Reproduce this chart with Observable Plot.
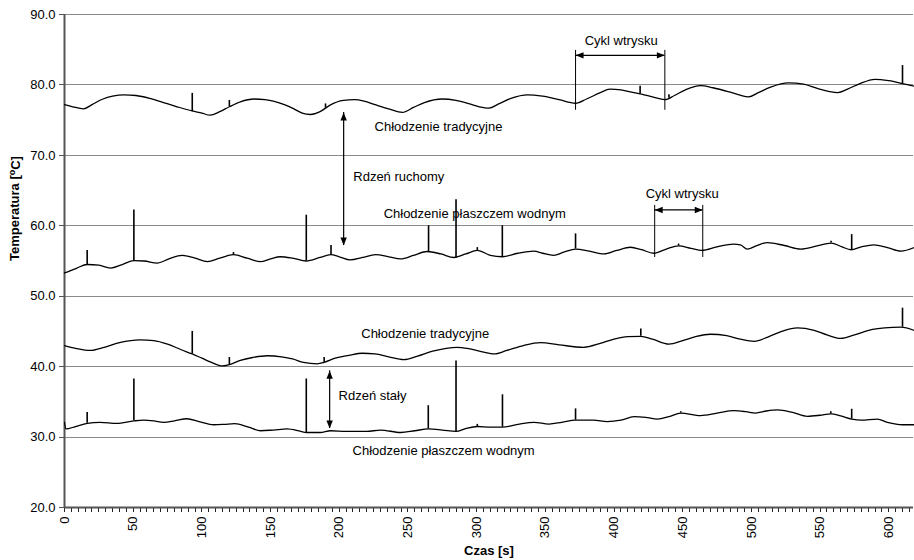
<!DOCTYPE html>
<html>
<head>
<meta charset="utf-8">
<script src="https://cdn.jsdelivr.net/npm/d3@7"></script>
<script src="https://cdn.jsdelivr.net/npm/@observablehq/plot@0.6"></script>
<style>
  html, body { margin: 0; padding: 0; background: #fff; }
  #chart { width: 914px; height: 560px; }
</style>
</head>
<body>
<div id="chart"></div>
<script>
// ---- data: [time s, temperature °C] ----
const movingTrad = [[0,77.2],[6,76.9],[13.8,76.6],[20,77.2],[28,78.0],[35,78.4],[43,78.6],[52,78.5],[62,78.1],[72,77.5],[82,76.9],[93,76.3],[100,76.0],[106,75.7],[113,76.2],[120,76.9],[128,77.6],[138,78.0],[146,77.9],[152,77.7],[160,77.2],[167,76.6],[173,76.0],[179,75.8],[186,76.2],[193,77.1],[203,77.8],[211,77.9],[218,77.7],[226,77.2],[236,76.6],[246,76.1],[254,76.8],[262,77.5],[275,78.0],[285,77.8],[295,77.3],[302,76.9],[309,76.7],[316,77.3],[325,78.1],[337,78.6],[348,78.4],[360,77.9],[372,77.4],[380,78.0],[390,78.9],[397,79.4],[405,79.3],[412,79.0],[420,78.7],[428,78.3],[437,77.9],[444,78.5],[452,79.3],[463,79.9],[472,79.6],[484,79.0],[491,78.6],[498,78.3],[505,78.9],[514,79.7],[527,80.3],[538,80.1],[548,79.5],[556,79.1],[563,78.9],[570,79.4],[579,80.2],[590,80.8],[600,80.6],[610,80.2],[619,79.8]];
const movingWater = [[0,53.3],[4,53.6],[9,54.0],[16.5,54.5],[25,54.4],[33.5,54.0],[42,54.5],[50.5,55.05],[58,55.0],[67.5,54.7],[76,55.3],[85.7,55.8],[95,55.4],[104,54.9],[113,55.4],[123,55.9],[133,55.4],[142.7,54.9],[150,55.3],[157,55.6],[166,55.4],[176,55.0],[186,55.5],[193.7,55.9],[200,55.6],[208,55.15],[217,55.5],[226.5,55.9],[236,55.6],[244.7,55.3],[254,55.8],[264,56.35],[274,56.0],[283.5,55.5],[292,56.0],[300.5,56.5],[310,55.8],[318.7,55.6],[330,56.1],[341.7,56.4],[348,56.1],[356,55.8],[364,56.3],[372,56.7],[382,56.4],[392.7,56.0],[402,56.5],[412,56.95],[420,56.6],[429,56.1],[438,56.7],[447,57.15],[456,56.8],[464,56.5],[475,57.0],[487,57.4],[492,57.3],[497,56.7],[504,57.2],[511.7,57.6],[524,57.2],[536,56.7],[547,57.1],[558,57.55],[566,57.0],[572.5,56.6],[580,57.0],[589,57.3],[599,56.9],[608.8,56.4],[619,56.95]];
const fixedTrad = [[0,42.98],[8,42.6],[19,42.3],[28,42.7],[40,43.4],[55,43.8],[65,43.7],[75,43.2],[85,42.4],[93,41.8],[100,41.2],[107,40.6],[114.8,40.1],[120,40.3],[128,40.9],[137,41.3],[147.6,41.55],[158,41.4],[166,41.1],[174,40.6],[184,40.4],[189,40.6],[197,41.2],[207,41.6],[216.8,41.9],[226,41.8],[236,41.4],[247,41.0],[257,41.5],[268,42.2],[286,42.75],[293,42.6],[302,42.2],[312.6,41.8],[322,42.3],[334,43.0],[346.6,43.4],[360,43.1],[378,42.75],[390,43.3],[400,43.9],[410,44.25],[419.5,44.3],[428,43.9],[440,43.2],[450,43.7],[460,44.3],[470,44.6],[482,44.4],[492,43.9],[502,43.6],[512,44.2],[522,45.0],[533.5,45.5],[545,45.2],[555,44.5],[565,44.0],[575,44.5],[586,45.2],[597,45.5],[608.8,45.6],[619,45.1]];
const fixedWater = [[0,32.1],[1,31.15],[8,31.5],[16.5,31.95],[26,32.1],[38,31.95],[50.5,32.3],[57.7,32.4],[65,32.3],[72.3,32.1],[80,32.3],[89,32.6],[98,32.2],[108.7,31.75],[116,31.8],[124,31.9],[134,31.4],[142.7,30.9],[152,31.0],[162,31.15],[172,30.8],[176,30.65],[186,30.65],[193.7,30.9],[205,30.8],[220,30.8],[230,31.0],[244.7,30.65],[255,30.9],[265,31.15],[275,31.0],[285,30.8],[292,31.2],[300.5,31.5],[310,31.4],[318.8,31.4],[330,31.8],[341.7,32.1],[352.7,31.85],[362,32.1],[372,32.4],[385,32.4],[395,32.2],[405,32.4],[414.6,32.9],[423,32.8],[431.6,32.55],[440,32.9],[448.6,33.4],[463,33.05],[475,33.4],[487.4,33.75],[496,33.6],[503,33.4],[511,33.7],[519,33.85],[530,33.5],[540.8,32.95],[550,33.1],[557.8,33.3],[565,33.0],[573,32.55],[580,32.4],[591.7,32.55],[599,32.1],[610,31.75],[619,31.75]];

// spikes: [time, base, peak]
const movingTradSpikes = [[93,76.2,78.8],[120,76.9,77.8],[190,76.7,77.3],[419,78.7,79.8],[440,78.1,78.6],[610,80.2,82.75]];
const movingWaterSpikes = [[16.5,54.5,56.5],[50.5,55.05,62.25],[123,55.9,56.2],[176,55.0,61.5],[194,55.9,57.2],[265,56.35,60.0],[285,55.4,63.7],[300.5,56.5,56.9],[318.7,55.6,60.0],[372,56.7,58.85],[447,57.15,57.4],[558,57.55,57.8],[573,56.6,58.75]];
const fixedTradSpikes = [[93,41.8,45.0],[120,40.3,41.3],[189,40.6,41.3],[419.5,44.3,45.35],[610,45.6,48.3]];
const fixedWaterSpikes = [[16.5,31.95,33.5],[50.5,32.3,38.25],[176,30.65,38.25],[264.8,31.15,34.45],[285,30.8,40.8],[300.5,31.5,31.8],[318.8,31.4,36.0],[372,32.4,34.0],[448.6,33.4,33.6],[557.8,33.3,33.6],[573,32.55,33.95]];

// annotations
const seriesNotes = [
  {t: 225.7, v: 74.1, label: "Chłodzenie tradycyjne"},
  {t: 210.2, v: 66.9, label: "Rdzeń ruchomy"},
  {t: 232.3, v: 61.7, label: "Chłodzenie płaszczem wodnym"},
  {t: 216.0, v: 44.7, label: "Chłodzenie tradycyjne"},
  {t: 199.5, v: 35.9, label: "Rdzeń stały"},
  {t: 209.7, v: 28.1, label: "Chłodzenie płaszczem wodnym"}
];
const cycleNotes = [
  {t: 405.2, v: 86.2, label: "Cykl wtrysku"},
  {t: 449.6, v: 64.6, label: "Cykl wtrysku"}
];
// cycle markers: start, end, arrow level, vertical extent
const cycles = [
  {t1: 372, t2: 437, v: 84.2, lo: 76.4, hi: 84.9},
  {t1: 429.6, t2: 464.6, v: 62.25, lo: 55.5, hi: 62.9}
];
// core arrows: x, top tip, bottom tip
const coreArrows = [
  {t: 203.2, top: 76.1, bottom: 57.2},
  {t: 193.0, top: 39.4, bottom: 31.2}
];
const xMajorTicks = d3.range(0, 601, 50);
const xMinorTicks = d3.range(0, 616, 5);
const yTicks = d3.range(20, 91, 10);

// ---- build ----
const FONT = "'Liberation Sans', Arial, Helvetica, sans-serif";
const series = [
  ["mt", movingTrad], ["mw", movingWater], ["ft", fixedTrad], ["fw", fixedWater]
];
const rows = series.flatMap(([s, pts]) => pts.map(([t, v]) => ({s, t, v})));
const spikes = [movingTradSpikes, movingWaterSpikes, fixedTradSpikes, fixedWaterSpikes]
  .flatMap(a => a.map(([t, b, p]) => ({t, b, p})));

function tri(dir) {
  return {draw(ctx) {
    const L = 8, W = 3.2;
    ctx.moveTo(0, 0);
    if (dir === "up") { ctx.lineTo(-W, L); ctx.lineTo(W, L); }
    else if (dir === "down") { ctx.lineTo(-W, -L); ctx.lineTo(W, -L); }
    else if (dir === "right") { ctx.lineTo(-L, -W); ctx.lineTo(-L, W); }
    else { ctx.lineTo(L, -W); ctx.lineTo(L, W); }
    ctx.closePath();
  }};
}

const plot = Plot.plot({
  width: 914,
  height: 560,
  marginLeft: 64,
  marginRight: 1,
  marginTop: 14,
  marginBottom: 53,
  style: {fontFamily: FONT, fontSize: "13px", color: "#000", background: "#fff"},
  x: {domain: [0, 618]},
  y: {domain: [20, 90]},
  marks: [
    Plot.gridY(d3.range(30, 91, 10), {stroke: "#8a8a8a", strokeOpacity: 1, strokeWidth: 1, shapeRendering: "crispEdges"}),
    Plot.axisY(yTicks, {tickSize: 5, tickPadding: 4, tickFormat: d => d.toFixed(1), label: null, stroke: "#555", strokeOpacity: 1, shapeRendering: "crispEdges", fontSize: 13}),
    Plot.axisX(xMinorTicks, {tickSize: 5, tickFormat: () => "", label: null, stroke: "#222", strokeOpacity: 1, shapeRendering: "crispEdges"}),
    Plot.axisX(xMajorTicks, {tickSize: 5, tickPadding: 4, tickRotate: -90, label: null, stroke: "#222", strokeOpacity: 1, shapeRendering: "crispEdges", fontSize: 13}),
    Plot.ruleX([0], {stroke: "#555", strokeWidth: 2}),
    Plot.ruleY([20], {stroke: "#555", strokeWidth: 2}),
    Plot.line(rows, {x: "t", y: "v", z: "s", curve: "monotone-x", stroke: "#000", strokeWidth: 1.3}),
    Plot.ruleX(spikes, {x: "t", y1: "b", y2: "p", stroke: "#000", strokeWidth: 1.6}),
    // cycle markers
    Plot.ruleX(cycles, {x: "t1", y1: "lo", y2: "hi", stroke: "#000", strokeWidth: 1}),
    Plot.ruleX(cycles, {x: "t2", y1: "lo", y2: "hi", stroke: "#000", strokeWidth: 1}),
    Plot.ruleY(cycles, {y: "v", x1: "t1", x2: "t2", stroke: "#000", strokeWidth: 1.2}),
    Plot.dot(cycles, {x: "t1", y: "v", symbol: tri("left"), fill: "#000", stroke: null}),
    Plot.dot(cycles, {x: "t2", y: "v", symbol: tri("right"), fill: "#000", stroke: null}),
    // core arrows
    Plot.ruleX(coreArrows, {x: "t", y1: "bottom", y2: "top", stroke: "#000", strokeWidth: 1.2}),
    Plot.dot(coreArrows, {x: "t", y: "top", symbol: tri("up"), fill: "#000", stroke: null}),
    Plot.dot(coreArrows, {x: "t", y: "bottom", symbol: tri("down"), fill: "#000", stroke: null}),
    // labels
    Plot.text(seriesNotes, {x: "t", y: "v", text: "label", textAnchor: "start", lineAnchor: "middle", fontSize: 13, fill: "#000"}),
    Plot.text(cycleNotes, {x: "t", y: "v", text: "label", textAnchor: "middle", lineAnchor: "middle", fontSize: 13, fill: "#000"}),
    Plot.text(["Czas [s]"], {frameAnchor: "bottom", dy: 43, lineAnchor: "middle", fontWeight: "bold", fontSize: 13, fill: "#000"}),
    Plot.text(["Temperatura [oC]"], {frameAnchor: "left", dx: -50, rotate: -90, lineAnchor: "middle", fontWeight: "bold", fontSize: 13, fill: "#000"})
  ]
});

// superscript "o" in the y label
d3.select(plot).selectAll("text").filter(function() { return this.textContent === "Temperatura [oC]"; })
  .each(function() {
    const t = d3.select(this);
    t.text(null);
    t.append("tspan").text("Temperatura [");
    t.append("tspan").attr("dy", "-0.45em").attr("font-size", "9px").text("o");
    t.append("tspan").attr("dy", "0.45em").text("C]");
  });

document.getElementById("chart").appendChild(plot);
</script>
</body>
</html>
